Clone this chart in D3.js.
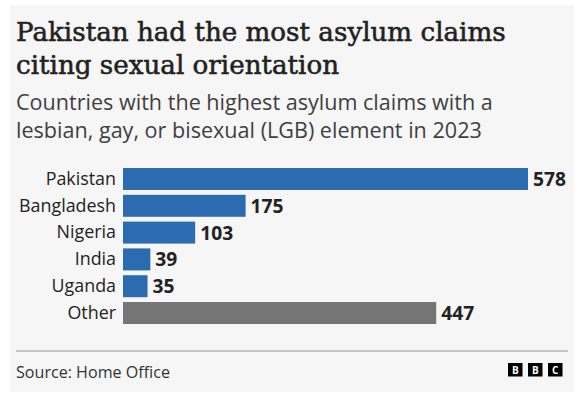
<!DOCTYPE html>
<html><head><meta charset="utf-8">
<script src="https://cdn.jsdelivr.net/npm/d3@7"></script>
<style>html,body{margin:0;padding:0;background:#fff;}</style>
</head><body>
<script>
const categories = ["Pakistan","Bangladesh","Nigeria","India","Uganda","Other"];
const values = [578,175,103,39,35,447];
const barColors = ["#2b6cb0","#2b6cb0","#2b6cb0","#2b6cb0","#2b6cb0","#757575"];
const titleLines = ["Pakistan had the most asylum claims","citing sexual orientation"];
const subtitleLines = ["Countries with the highest asylum claims with a","lesbian, gay, or bisexual (LGB) element in 2023"];
const sourceText = "Source: Home Office";

const W = 580, H = 397;
const svg = d3.select("body").append("svg").attr("width",W).attr("height",H);
svg.append("rect").attr("x",10).attr("y",5).attr("width",564).attr("height",387).attr("fill","#f6f6f6");

function fitText(sel, target){
  const n = sel.node();
  let fs = parseFloat(sel.attr("font-size"));
  const w = n.getComputedTextLength();
  sel.attr("font-size", (fs*target/w).toFixed(2));
}

const title = svg.selectAll(".title").data(titleLines).join("text")
  .attr("x",16).attr("y",(d,i)=>41+i*33)
  .attr("font-family","'DejaVu Serif', serif").attr("font-size",24)
  .attr("fill","#222").attr("stroke","#222").attr("stroke-width",0.55).text(d=>d);
fitText(d3.select(title.nodes()[0]), 490);
title.attr("font-size", d3.select(title.nodes()[0]).attr("font-size"));

const sub = svg.selectAll(".sub").data(subtitleLines).join("text")
  .attr("x",16).attr("y",(d,i)=>110+i*28)
  .attr("font-family","'Open Sans', sans-serif").attr("font-size",19)
  .attr("fill","#3f3f42").text(d=>d);
fitText(d3.select(sub.nodes()[0]), 477);
sub.attr("font-size", d3.select(sub.nodes()[0]).attr("font-size"));

const x = d3.scaleLinear().domain([0,578]).range([123,528]);
const y = d3.scaleBand().domain(categories).range([168,324]).paddingInner(0.18).paddingOuter(0);

const g = svg.append("g");
g.selectAll("rect.bar").data(values).join("rect").attr("class","bar")
  .attr("x",x(0)).attr("y",(d,i)=>y(categories[i]))
  .attr("width",d=>x(d)-x(0)).attr("height",y.bandwidth())
  .attr("fill",(d,i)=>barColors[i]);

const yAxis = d3.axisLeft(y).tickSize(0).tickPadding(7);
const ag = svg.append("g").attr("transform",`translate(${x(0)},0)`).call(yAxis);
ag.select(".domain").remove();
ag.attr("font-family","'Open Sans', sans-serif").attr("font-size",15);
ag.selectAll("text").attr("fill","#222").attr("font-size",15);
const bl = ag.selectAll("text").filter(d=>d==="Bangladesh");
fitText(bl, 97);
ag.selectAll("text").attr("font-size", bl.attr("font-size"));

const vals = g.selectAll("text.val").data(values).join("text").attr("class","val")
  .attr("x",d=>x(d)+5).attr("y",(d,i)=>y(categories[i])+y.bandwidth()/2)
  .attr("dy","0.36em").attr("font-family","'Open Sans', sans-serif").attr("font-weight","bold")
  .attr("font-size",15).attr("fill","#222").text(d=>d);
fitText(d3.select(vals.nodes()[0]), 33);
vals.attr("font-size", d3.select(vals.nodes()[0]).attr("font-size"));

svg.append("line").attr("x1",16).attr("x2",568).attr("y1",351).attr("y2",351)
  .attr("stroke","#b5b5b5").attr("stroke-width",1.5);
const src = svg.append("text").attr("x",16).attr("y",378).attr("font-family","'Open Sans', sans-serif")
  .attr("font-size",14.5).attr("fill","#333").text(sourceText);
fitText(src, 154);

["B","B","C"].forEach((c,i)=>{
  svg.append("rect").attr("x",508+i*20).attr("y",363).attr("width",14.5).attr("height",13.5).attr("fill","#000");
  svg.append("text").attr("x",508+i*20+7.25).attr("y",370).attr("dy","0.36em").attr("text-anchor","middle")
    .attr("font-family","'Open Sans', sans-serif").attr("font-weight","bold").attr("font-size",10).attr("fill","#fff").text(c);
});
</script>
</body></html>
